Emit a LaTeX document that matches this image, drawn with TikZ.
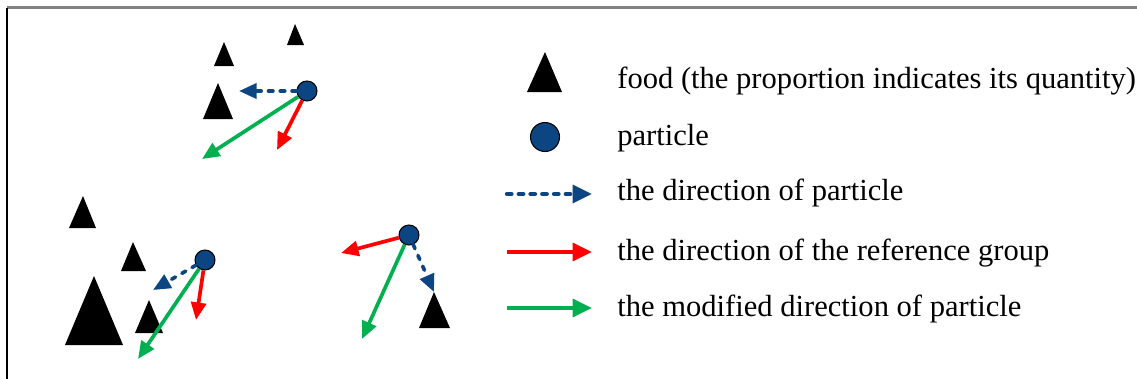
\documentclass[tikz,border=0pt]{standalone}
\usepackage{fontspec}
\setmainfont{Liberation Serif}
\usetikzlibrary{arrows.meta}
\definecolor{pblue}{RGB}{12,70,130}
\definecolor{pred}{RGB}{255,0,0}
\definecolor{pgreen}{RGB}{0,176,80}

\begin{document}
\begin{tikzpicture}[x=0.02cm, y=-0.02cm,
    particle/.style={circle, draw=black, fill=pblue, line width=0.6pt, inner sep=0pt, minimum size=0.4cm},
    vec/.style={line width=2.1pt, -{Triangle[length=10pt, width=8.5pt]}},
    dirown/.style={vec, pblue, dash pattern=on 2.5pt off 4.2pt, line cap=round},
    dirref/.style={vec, pred},
    dirmod/.style={vec, pgreen},
    legtext/.style={anchor=west, inner sep=0pt, font=\fontsize{17.4}{20}\selectfont}]
    \useasboundingbox (0,0) rectangle (1137,379);
    % Frame:
    \draw[gray, line width=1.2pt] (7,7.5) -- (1137,7.5);
    \draw[black, line width=1.2pt] (7,7.5) -- (7,379);

    % Food:
    \fill (224,42) coordinate (F1) -- (234,66) -- (214,66) -- cycle;
    \fill (295,24) coordinate (F2) -- (304,45) -- (287,45) -- cycle;
    \fill (218,83) coordinate (F3) -- (233,119) -- (203,119) -- cycle;
    \fill (83,196) coordinate (F4) -- (96,228) -- (69,228) -- cycle;
    \fill (133,242) coordinate (F5) -- (146,271) -- (121,271) -- cycle;
    \fill (94,276) coordinate (F6) -- (123,345) -- (65,345) -- cycle;
    \fill (149,300) coordinate (F7) -- (163,333) -- (135,333) -- cycle;
    \fill (434,292) coordinate (F8) -- (450,328) -- (419,328) -- cycle;

    % Particles:
    \node[particle] (P1) at (307,91) {};
    \node[particle] (P2) at (205,260) {};
    \node[particle] (P3) at (409,235) {};

    % Directions:
    \coordinate (A1) at (239,91);
    \coordinate (B1) at (277,150);
    \coordinate (C1) at (202,159);
    \draw[dirown] (P1) -- (A1);
    \draw[dirref] (P1) -- (B1);
    \draw[dirmod] (P1) -- (C1);

    \coordinate (A2) at (153,290);
    \coordinate (B2) at (196,320);
    \coordinate (C2) at (138,359);
    \draw[dirown] (P2) -- (A2);
    \draw[dirref] (P2) -- (B2);
    \draw[dirmod] (P2) -- (C2);

    \coordinate (B3) at (341,253);
    \coordinate (C3) at (362,339);
    \draw[dirown] (P3) -- (F8);
    \draw[dirref] (P3) -- (B3);
    \draw[dirmod] (P3) -- (C3);

    % Legend:
    \fill (545,52) coordinate (LF) -- (562,92) -- (527,92) -- cycle;
    \node[particle, minimum size=0.58cm] (LP) at (545,137) {};
    \coordinate (La) at (507,194);
    \coordinate (Lb) at (592,194);
    \coordinate (Lc) at (507,252);
    \coordinate (Ld) at (592,252);
    \coordinate (Le) at (507,308);
    \coordinate (Lf) at (592,308);
    \draw[dirown, line width=2.5pt, -{Triangle[length=11pt, width=10pt]}] (La) -- (Lb);
    \draw[dirref, line width=2.5pt, -{Triangle[length=11pt, width=10pt]}] (Lc) -- (Ld);
    \draw[dirmod, line width=2.5pt, -{Triangle[length=11pt, width=10pt]}] (Le) -- (Lf);

    \node[legtext] (T1) at (617,81) {food (the proportion indicates its quantity)};
    \node[legtext] (T2) at (617,138) {particle};
    \node[legtext] (T3) at (617,193) {the direction of particle};
    \node[legtext] (T4) at (617,253) {the direction of the reference group};
    \node[legtext] (T5) at (617,309) {the modified direction of particle};
\end{tikzpicture}
\end{document}
